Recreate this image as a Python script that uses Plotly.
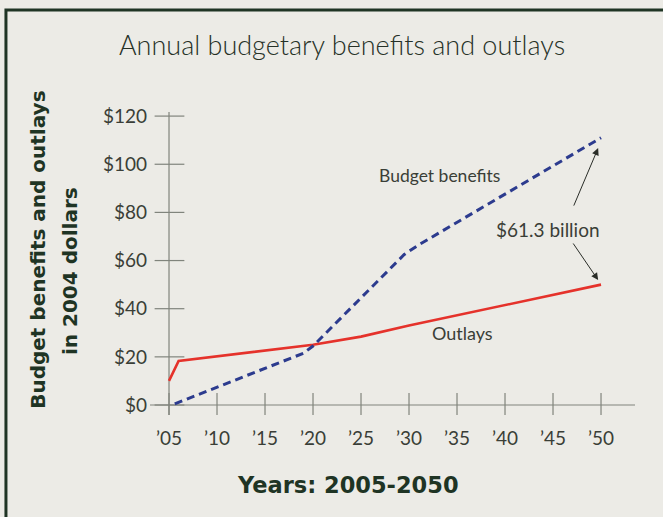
import plotly.graph_objects as go

# ---- data ----
outlay_years = [2005, 2006, 2020, 2025, 2030, 2040, 2050]
outlay_vals = [10, 18.3, 25, 28.4, 33, 41.5, 50]

benefit_years = [2005.6, 2019, 2020, 2029.5, 2031, 2040, 2050]
benefit_vals = [0.5, 21.5, 24.5, 62.5, 66.5, 87.5, 111]

x_ticks = [2005, 2010, 2015, 2020, 2025, 2030, 2035, 2040, 2045, 2050]
x_tick_labels = ["\u201905", "\u201910", "\u201915", "\u201920", "\u201925",
                 "\u201930", "\u201935", "\u201940", "\u201945", "\u201950"]
y_ticks = [0, 20, 40, 60, 80, 100, 120]
y_tick_labels = ["$0", "$20", "$40", "$60", "$80", "$100", "$120"]

BG = "#ecebe6"
TXT = "#3a3e37"
DARK = "#1f3424"
AX = "#80847c"
FONT = "Lato"
BOLD_FONT = "DejaVu Sans"

X_RANGE = [2003.02, 2053.54]
Y_RANGE = [-4.15, 121.7]

fig = go.Figure()
fig.add_trace(go.Scatter(x=outlay_years, y=outlay_vals, mode="lines",
                         line=dict(color="#e5322b", width=2.6),
                         hoverinfo="skip", showlegend=False))
fig.add_trace(go.Scatter(x=benefit_years, y=benefit_vals, mode="lines",
                         line=dict(color="#2c3b8e", width=3, dash="8px,5px"),
                         hoverinfo="skip", showlegend=False))

shapes = []
# axis lines
shapes.append(dict(type="line", xref="paper", yref="y", x0=0, x1=1, y0=0, y1=0,
                   line=dict(color=AX, width=1.2), layer="below"))
shapes.append(dict(type="line", xref="x", yref="paper", x0=x_ticks[0], x1=x_ticks[0],
                   y0=0, y1=1, line=dict(color=AX, width=1.2), layer="below"))
# crossing ticks
for t in x_ticks:
    shapes.append(dict(type="line", xref="x", yref="y", x0=t, x1=t, y0=-4.6, y1=5.0,
                       line=dict(color=AX, width=1.2), layer="below"))
for t in y_ticks:
    shapes.append(dict(type="line", xref="x", yref="y", x0=x_ticks[0] - 1.5,
                       x1=x_ticks[0] + 1.6, y0=t, y1=t,
                       line=dict(color=AX, width=1.2), layer="below"))
# outer frame
shapes.append(dict(type="rect", xref="paper", yref="paper", x0=-0.297, x1=1.3,
                   y0=-0.6, y1=1.3366, line=dict(color=DARK, width=3),
                   fillcolor="rgba(0,0,0,0)", layer="below"))

annotations = [
    dict(text="Annual budgetary benefits and outlays", xref="paper", yref="paper",
         x=0.396, y=1.2244, xanchor="center", yanchor="middle", showarrow=False,
         font=dict(family=FONT, size=27, color="#263127", weight=300)),
    dict(text="Budget benefits and outlays", xref="paper", yref="paper",
         x=-0.231, y=0.545, xanchor="center", yanchor="middle", textangle=-90,
         showarrow=False, font=dict(family=BOLD_FONT, size=20, color=DARK, weight="bold")),
    dict(text="in 2004 dollars", xref="paper", yref="paper",
         x=-0.165, y=0.475, xanchor="center", yanchor="middle", textangle=-90,
         showarrow=False, font=dict(family=BOLD_FONT, size=20, color=DARK, weight="bold")),
    dict(text="Years: 2005-2050", xref="paper", yref="paper",
         x=0.409, y=-0.231, xanchor="center", yanchor="middle", showarrow=False,
         font=dict(family=BOLD_FONT, size=22.5, color=DARK, weight="bold")),
    dict(text="Budget benefits", x=2033.2, y=95.5, xref="x", yref="y",
         showarrow=False, font=dict(family=FONT, size=17.5, color=TXT)),
    dict(text="$61.3 billion", x=2044.5, y=72.7, xref="x", yref="y",
         showarrow=False, font=dict(family=FONT, size=19, color=TXT)),
    dict(text="Outlays", x=2035.6, y=29.9, xref="x", yref="y",
         showarrow=False, font=dict(family=FONT, size=18, color=TXT)),
    dict(text="", x=2049.7, y=106.7, ax=2047.1, ay=82.2, xref="x", yref="y",
         axref="x", ayref="y", showarrow=True, arrowhead=2, arrowsize=1.4,
         arrowwidth=1, arrowcolor="#2a2d28"),
    dict(text="", x=2049.7, y=51.9, ax=2047.0, ay=67.7, xref="x", yref="y",
         axref="x", ayref="y", showarrow=True, arrowhead=2, arrowsize=1.4,
         arrowwidth=1, arrowcolor="#2a2d28"),
]

fig.update_layout(
    width=663, height=517,
    margin=dict(l=150, r=28, t=112, b=102),
    paper_bgcolor=BG, plot_bgcolor=BG,
    shapes=shapes, annotations=annotations,
    xaxis=dict(range=X_RANGE, tickvals=x_ticks, ticktext=x_tick_labels,
               showgrid=False, zeroline=False, showline=False, ticks="",
               ticklabelstandoff=10,
               tickfont=dict(family=FONT, size=19, color=TXT), fixedrange=True),
    yaxis=dict(range=Y_RANGE, tickvals=y_ticks, ticktext=y_tick_labels,
               showgrid=False, zeroline=False, showline=False, ticks="",
               ticklabelstandoff=2,
               tickfont=dict(family=FONT, size=19, color=TXT), fixedrange=True),
    showlegend=False,
)

fig.write_html("out.html")
